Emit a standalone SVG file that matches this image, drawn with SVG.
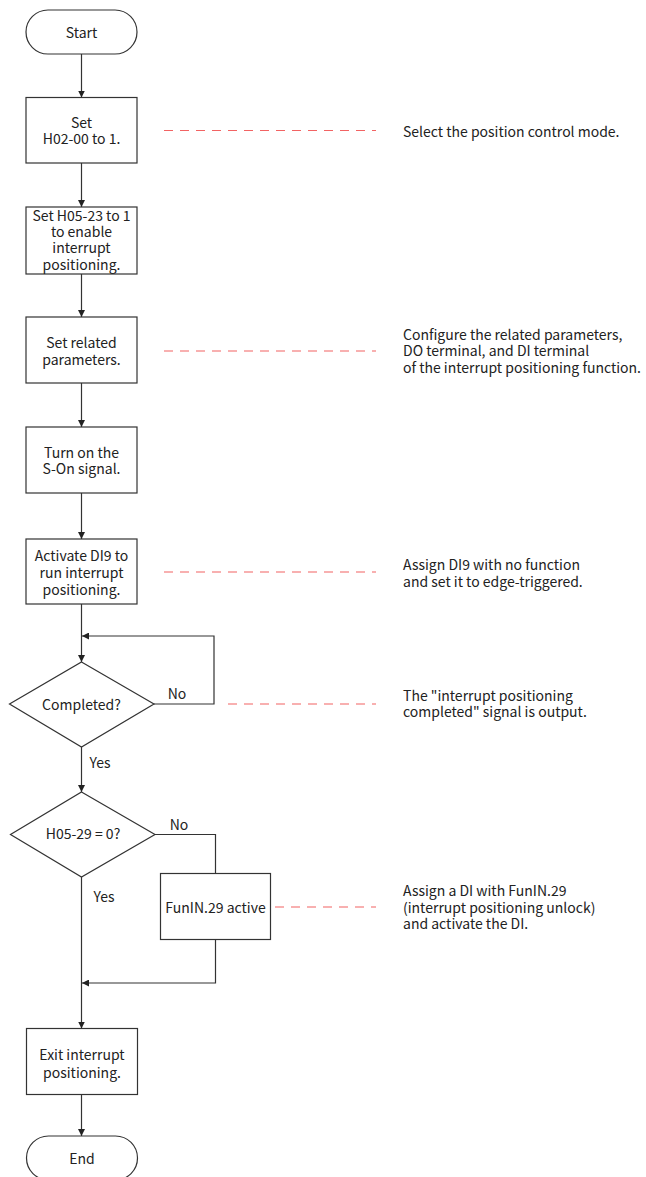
<svg xmlns="http://www.w3.org/2000/svg" width="646" height="1177" viewBox="0 0 646 1177">
<style>
  .shape { fill: #ffffff; stroke: #333333; stroke-width: 1.2; }
  .conn { fill: none; stroke: #333333; stroke-width: 1.2; }
  .dash { fill: none; stroke: #f04848; stroke-width: 1.2; stroke-dasharray: 9 7; stroke-opacity: 0.85; }
  text { font-family: "Noto Sans CJK SC", "Noto Sans", sans-serif; font-size: 14px; fill: #222222; }
  .c { text-anchor: middle; dominant-baseline: central; }
  .l { text-anchor: start; dominant-baseline: central; }
</style>
<defs>
  <marker id="arrow" viewBox="0 0 10 10" refX="10" refY="5" markerWidth="7" markerHeight="7" markerUnits="userSpaceOnUse" orient="auto">
    <path d="M0,0 L10,5 L0,10 Z" fill="#222222"/>
  </marker>
</defs>
<rect width="646" height="1177" fill="#ffffff"/>

<g id="connectors">
  <line class="conn" x1="81.5" y1="54" x2="81.5" y2="97.5" marker-end="url(#arrow)"/>
  <line class="conn" x1="81.5" y1="163" x2="81.5" y2="207" marker-end="url(#arrow)"/>
  <line class="conn" x1="81.5" y1="274" x2="81.5" y2="317" marker-end="url(#arrow)"/>
  <line class="conn" x1="81.5" y1="383" x2="81.5" y2="427" marker-end="url(#arrow)"/>
  <line class="conn" x1="81.5" y1="493" x2="81.5" y2="539" marker-end="url(#arrow)"/>
  <line class="conn" x1="81.5" y1="604" x2="81.5" y2="662" marker-end="url(#arrow)"/>
  <polyline class="conn" points="154,704 214,704 214,636 82,636" marker-end="url(#arrow)"/>
  <line class="conn" x1="81.5" y1="747" x2="81.5" y2="792" marker-end="url(#arrow)"/>
  <polyline class="conn" points="155,834.5 215.5,834.5 215.5,873.5"/>
  <line class="conn" x1="81.5" y1="877" x2="81.5" y2="1028.5" marker-end="url(#arrow)"/>
  <polyline class="conn" points="215.5,939.5 215.5,983 82,983" marker-end="url(#arrow)"/>
  <line class="conn" x1="81.5" y1="1094.5" x2="81.5" y2="1136" marker-end="url(#arrow)"/>
</g>

<g id="dashes">
  <line class="dash" x1="164" y1="130.5" x2="376" y2="130.5"/>
  <line class="dash" x1="164" y1="351" x2="376" y2="351"/>
  <line class="dash" x1="164" y1="572" x2="376" y2="572"/>
  <line class="dash" x1="228" y1="704" x2="376" y2="704"/>
  <line class="dash" x1="275" y1="907" x2="376" y2="907"/>
</g>

<g id="start">
  <rect class="shape" x="26" y="10" width="111" height="44" rx="22" ry="22"/>
  <text class="c" x="81.5" y="32">Start</text>
</g>

<g id="set-h0200">
  <rect class="shape" x="26" y="97.5" width="111" height="65.5"/>
  <text class="c" x="81.5" y="122">Set</text>
  <text class="c" x="81.5" y="138">H02-00 to 1.</text>
</g>

<g id="set-h0523">
  <rect class="shape" x="26" y="207" width="111" height="67"/>
  <text class="c" x="81.5" y="215">Set H05-23 to 1</text>
  <text class="c" x="81.5" y="231">to enable</text>
  <text class="c" x="81.5" y="247">interrupt</text>
  <text class="c" x="81.5" y="264">positioning.</text>
</g>

<g id="set-related">
  <rect class="shape" x="26" y="317" width="111" height="66"/>
  <text class="c" x="81.5" y="342">Set related</text>
  <text class="c" x="81.5" y="358.5">parameters.</text>
</g>

<g id="turn-on">
  <rect class="shape" x="26" y="427" width="111" height="66"/>
  <text class="c" x="81.5" y="451.5">Turn on the</text>
  <text class="c" x="81.5" y="468">S-On signal.</text>
</g>

<g id="activate-di9">
  <rect class="shape" x="26" y="539" width="111" height="65"/>
  <text class="c" x="81.5" y="555">Activate DI9 to</text>
  <text class="c" x="81.5" y="572">run interrupt</text>
  <text class="c" x="81.5" y="589">positioning.</text>
</g>

<g id="completed">
  <polygon class="shape" points="81.5,662 154,704 81.5,747 9.5,704"/>
  <text class="c" x="81.5" y="704">Completed?</text>
  <text class="c" x="177" y="692.5">No</text>
  <text class="c" x="100" y="761.5">Yes</text>
</g>

<g id="h0529">
  <polygon class="shape" points="81.5,792 155,834.5 81.5,877 10.5,834.5"/>
  <text class="c" x="83" y="833">H05-29 = 0?</text>
  <text class="c" x="179" y="824">No</text>
  <text class="c" x="104" y="896">Yes</text>
</g>

<g id="funin29">
  <rect class="shape" x="160.5" y="873.5" width="110" height="66"/>
  <text class="c" x="215.5" y="907">FunIN.29 active</text>
</g>

<g id="exit">
  <rect class="shape" x="26.5" y="1028.5" width="111" height="66"/>
  <text class="c" x="82" y="1054">Exit interrupt</text>
  <text class="c" x="82" y="1071.5">positioning.</text>
</g>

<g id="end">
  <rect class="shape" x="26.5" y="1136" width="111" height="44" rx="22" ry="22"/>
  <text class="c" x="82" y="1158">End</text>
</g>

<g id="notes">
  <text class="l" x="403" y="130.5">Select the position control mode.</text>
  <text class="l" x="403" y="333.5">Configure the related parameters,</text>
  <text class="l" x="403" y="350">DO terminal, and DI terminal</text>
  <text class="l" x="403" y="367">of the interrupt positioning function.</text>
  <text class="l" x="403" y="564">Assign DI9 with no function</text>
  <text class="l" x="403" y="580.5">and set it to edge-triggered.</text>
  <text class="l" x="403" y="694.5">The "interrupt positioning</text>
  <text class="l" x="403" y="711">completed" signal is output.</text>
  <text class="l" x="403" y="890">Assign a DI with FunIN.29</text>
  <text class="l" x="403" y="906.5">(interrupt positioning unlock)</text>
  <text class="l" x="403" y="923">and activate the DI.</text>
</g>
</svg>
